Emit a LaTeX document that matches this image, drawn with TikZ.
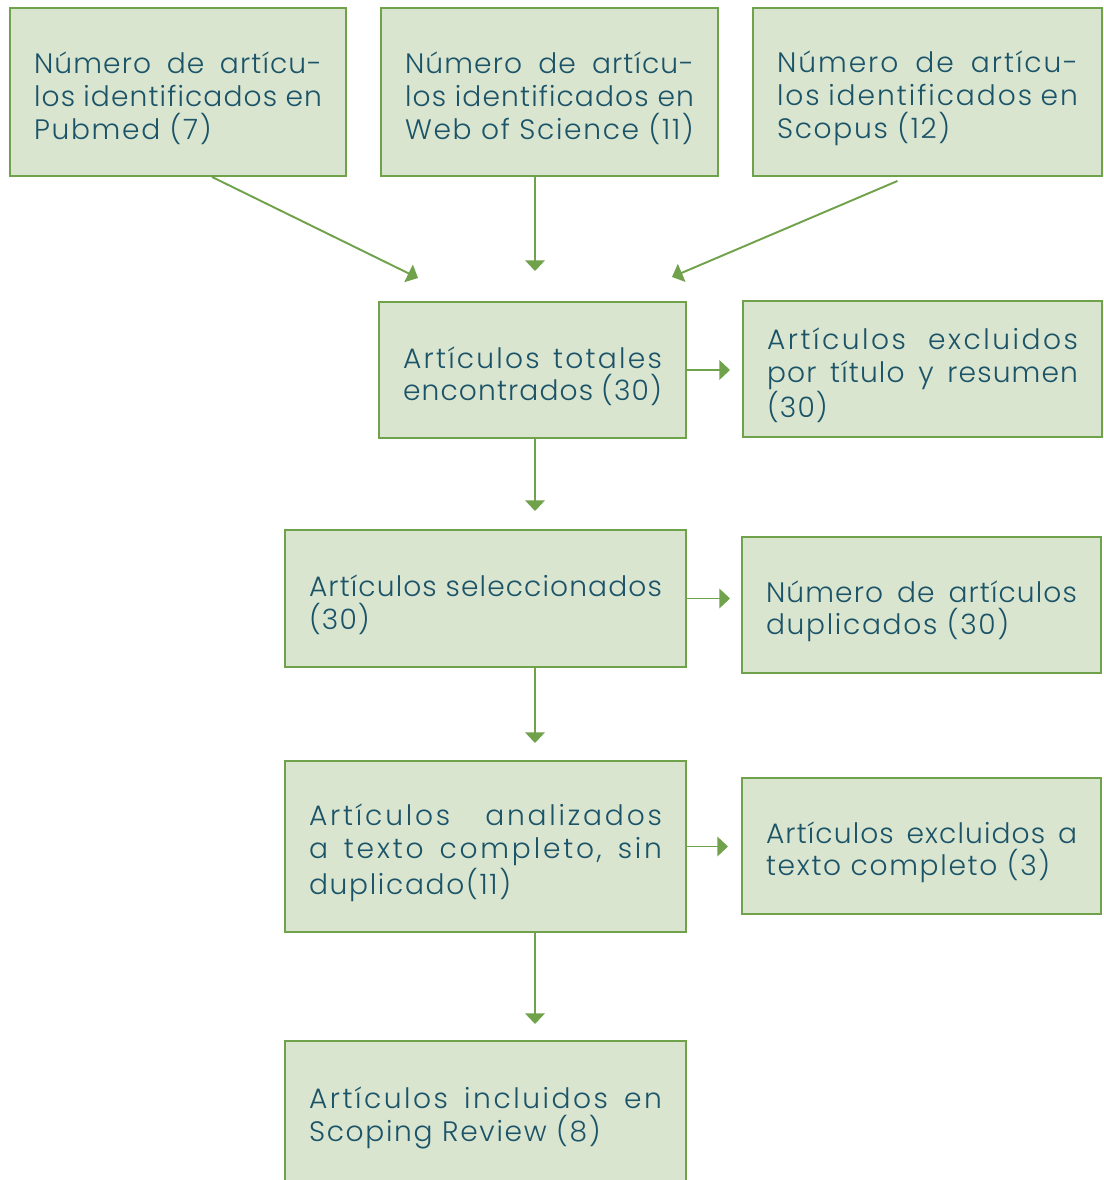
\documentclass[tikz,border=0pt]{standalone}
\usepackage{fontspec}
\setmainfont{Poppins}[UprightFont=* Light,LetterSpace=4]
\usetikzlibrary{arrows.meta,calc}
\definecolor{BoxClr}{HTML}{DAE5D0}
\definecolor{LineClr}{HTML}{70A24C}
\definecolor{TextClr}{HTML}{1B5468}
\newcommand\trk[2]{{\addfontfeature{LetterSpace=#1}#2}}

\begin{document}
\begin{tikzpicture}[x=0.02cm,y=-0.02cm,
  box/.style n args={3}{draw=LineClr,fill=BoxClr,line width=1.1pt,text=TextClr,
    minimum width=#1,minimum height=#2,text width=#3,inner xsep=0.48cm,inner ysep=0pt,
    align=justify,font=\fontsize{16}{18.7}\selectfont,
    execute at begin node={\rule{0pt}{19.5pt}}},
  link/.style={draw=LineClr,line width=1.1pt,-{Triangle[width=11pt,length=6pt]}}]

\useasboundingbox (0,0) rectangle (1104,1180);

\node[box={6.72cm}{3.36cm}{5.76cm}] (pubmed) at (178,92)
  {Número~de~artícu-\linebreak los~identificados~en\linebreak \trk{6}{Pubmed~(7)}};
\node[box={6.74cm}{3.36cm}{5.78cm}] (wos) at (549.5,92)
  {Número~de~artícu-\linebreak los~identificados~en\linebreak \trk{6}{Web~of~Science~(11)}};
\node[box={6.98cm}{3.36cm}{6.02cm}] (scopus) at (927.5,92)
  {\trk{7}{Número~de~artícu-}\linebreak \trk{7}{los~identificados~en}\linebreak \trk{6}{Scopus~(12)}};

\node[box={6.14cm}{2.72cm}{5.18cm}] (totales) at (532.5,370)
  {\trk{8}{Artículos~totales}\linebreak encontrados~(30)};
\node[box={7.18cm}{2.72cm}{6.22cm}] (exclTitulo) at (922.5,369)
  {\trk{9}{Artículos~excluidos}\linebreak por~título~y~resumen\linebreak (30)};

\node[box={8.02cm}{2.74cm}{7.06cm}] (selec) at (485.5,598.5)
  {Artículos~seleccionados\linebreak (30)};
\node[box={7.18cm}{2.72cm}{6.22cm}] (dupl) at (921.5,605)
  {Número~de~artículos\linebreak \trk{6}{duplicados~(30)}};

\node[box={8.02cm}{3.42cm}{7.06cm}] (analiz) at (485.5,846.5)
  {\trk{10}{Artículos~analizados}\linebreak \trk{10}{a~texto~completo,~sin}\linebreak \trk{6}{duplicado(11)}};
\node[box={7.18cm}{2.72cm}{6.22cm}] (exclTexto) at (921.5,846)
  {Artículos~excluidos~a\linebreak \trk{6}{texto~completo~(3)}};

\node[box={8.02cm}{2.84cm}{7.06cm}] (incl) at (485.5,1112)
  {\trk{9}{Artículos~incluidos~en}\linebreak \trk{6}{Scoping~Review~(8)}};

\coordinate (pubIn) at (418,278);
\coordinate (wosIn) at (535,271);
\coordinate (scoIn) at (672,277);
\coordinate (exclIn) at (730,370);
\coordinate (selIn) at (535,511);
\coordinate (duplIn) at (730,598.5);
\coordinate (analIn) at (535,743);
\coordinate (textoIn) at (728,846.5);
\coordinate (inclIn) at (535,1024);

\draw[link] ($(pubmed.south)+(34,0)$) -- (pubIn);
\draw[link] (wos.south -| wosIn) -- (wosIn);
\draw[link] ($(scopus.south)+(-30,4)$) -- (scoIn);

\draw[link] (totales.east) -- (exclIn);
\draw[link] (totales.south -| selIn) -- (selIn);
\draw[link] (selec.east) -- (duplIn);
\draw[link] (selec.south -| analIn) -- (analIn);
\draw[link] (analiz.east) -- (textoIn);
\draw[link] (analiz.south -| inclIn) -- (inclIn);

\end{tikzpicture}
\end{document}
